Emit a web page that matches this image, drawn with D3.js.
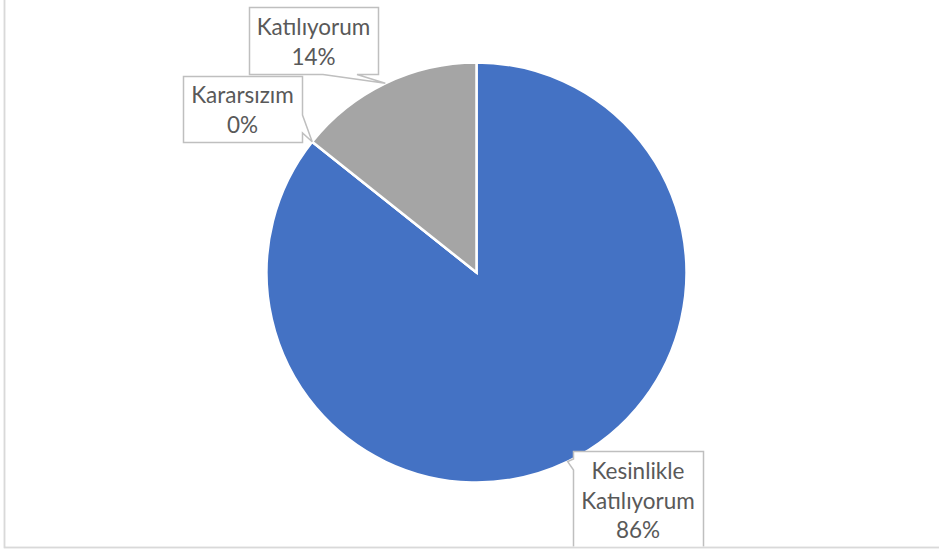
<!DOCTYPE html>
<meta charset="utf-8">
<style>
  body { margin: 0; background: #fff; }
  svg { display: block; }
</style>
<svg width="939" height="551"></svg>
<script src="https://d3js.org/d3.v7.min.js"></script>
<script>

// answer categories and share of respondents (%)
var categories = ["Kesinlikle Katılıyorum", "Kararsızım", "Katılıyorum"];
var values = [85.7, 0, 14.3];
var labelLines = [["Kesinlikle", "Katılıyorum", "86%"], ["Kararsızım", "0%"], ["Katılıyorum", "14%"]];
var colors = ["#4472C4", "#ED7D31", "#A5A5A5"];

var svg = d3.select("svg"),
    cx = 476.5, cy = 272.5, r = 210;

// chart area border (top/right edges fall outside the picture)
svg.append("rect")
    .attr("x", 4.5).attr("y", -10)
    .attr("width", 960).attr("height", 557.5)
    .attr("fill", "#fff")
    .attr("stroke", "#D9D9D9")
    .attr("stroke-width", 1.5);

var data = categories.map(function(c, i) {
  return {name: c, value: values[i], lines: labelLines[i], color: colors[i]};
});

var pie = d3.pie().sort(null).value(function(d) { return d.value; });
var arc = d3.arc().innerRadius(0).outerRadius(r);
var rim = d3.arc().innerRadius(r).outerRadius(r);

var arcs = pie(data);

var g = svg.append("g").attr("transform", "translate(" + cx + "," + cy + ")");

g.selectAll("path.slice")
  .data(arcs)
  .enter().append("path")
    .attr("class", "slice")
    .attr("d", arc)
    .attr("fill", function(d) { return d.data.color; })
    .attr("stroke", "#fff")
    .attr("stroke-width", 2.5)
    .attr("stroke-linejoin", "miter");

// callout boxes: box in page coords, which side the wedge leaves from, wedge base span
var boxes = [
  {x: 573, y: 451, w: 130, h: 110, side: "left", b0: 459, b1: 470, top: 479},
  {x: 183, y: 76, w: 119, h: 66, side: "right", b0: 115, b1: 133, top: 103},
  {x: 249, y: 7, w: 129, h: 67, side: "bottom", b0: 323, b1: 357, top: 35}
];
var lineH = 29.5;

var labels = svg.append("g");

svg.append("clipPath").attr("id", "clip")
  .append("rect").attr("x", 0).attr("y", 0).attr("width", 939).attr("height", 546.5);

arcs.forEach(function(d, i) {
  var b = boxes[i],
      t = rim.centroid(d),
      tx = cx + t[0], ty = cy + t[1],
      x0 = b.x + 0.5, y0 = b.y + 0.5, x1 = b.x + b.w + 0.5, y1 = b.y + b.h + 0.5,
      p = d3.path();

  p.moveTo(x0, y0);
  p.lineTo(x1, y0);
  if (b.side === "right") {
    p.lineTo(x1, b.b0); p.lineTo(tx, ty); p.lineTo(x1, b.b1);
  }
  p.lineTo(x1, y1);
  if (b.side === "bottom") {
    p.lineTo(b.b1, y1); p.lineTo(tx, ty); p.lineTo(b.b0, y1);
  }
  p.lineTo(x0, y1);
  if (b.side === "left") {
    p.lineTo(x0, b.b1); p.lineTo(tx, ty); p.lineTo(x0, b.b0);
  }
  p.closePath();

  var lg = labels.append("g").attr("clip-path", "url(#clip)");
  lg.append("path")
      .attr("d", p.toString())
      .attr("fill", "#fff")
      .attr("stroke", "#BFBFBF")
      .attr("stroke-width", 1.5)
      .attr("stroke-linejoin", "miter");

  lg.selectAll("text")
    .data(d.data.lines)
    .enter().append("text")
      .attr("x", b.x + b.w / 2)
      .attr("y", function(s, j) { return b.top + j * lineH; })
      .attr("text-anchor", "middle")
      .attr("fill", "#595959")
      .style("font-family", "Lato, 'Open Sans', sans-serif")
      .style("font-size", "22.5px")
      .text(function(s) { return s; });
});

// redraw bottom/left border over the clipped callout
svg.append("path")
    .attr("d", "M4.5,-10V547.5H960")
    .attr("fill", "none")
    .attr("stroke", "#D9D9D9")
    .attr("stroke-width", 1.5);

</script>
